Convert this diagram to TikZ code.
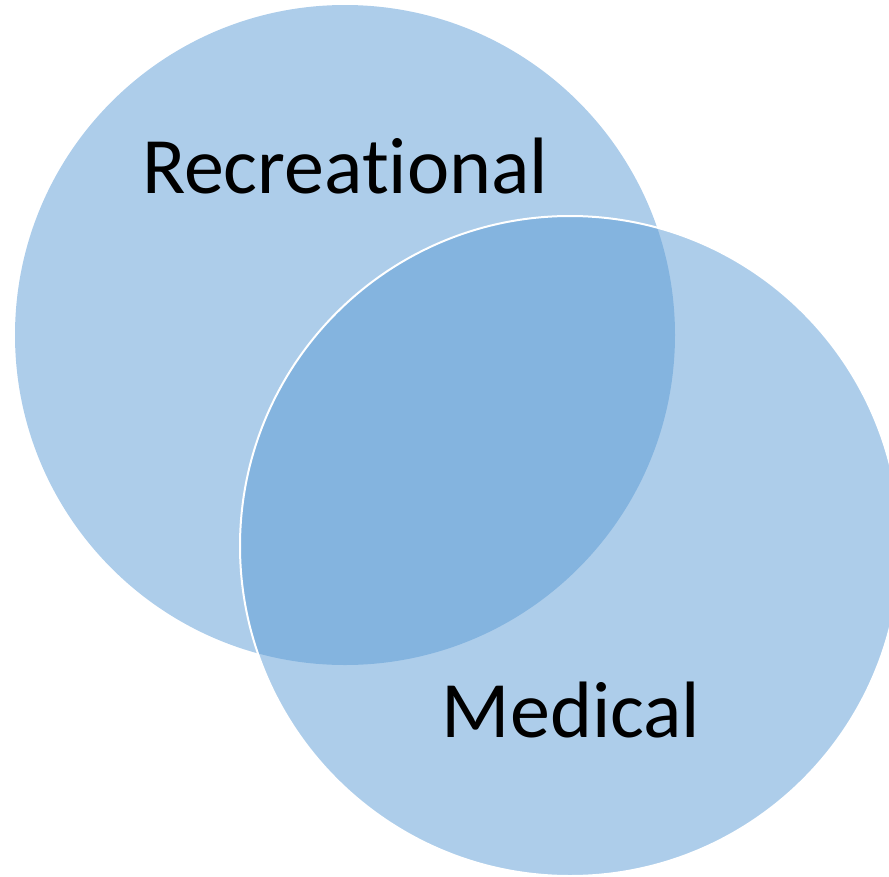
\documentclass[tikz,border=0pt]{standalone}
\usepackage{fontspec}
\setmainfont{Carlito}[Ligatures=NoCommon]
\usepackage{tikz}
\definecolor{setblue}{HTML}{5B9BD5}

\begin{document}
\begin{tikzpicture}[x=1pt,y=1pt,
                   set/.style={shape=circle,inner sep=0pt,minimum size=660pt,fill=setblue,fill opacity=0.5},
                   setlabel/.style={anchor=base,font=\fontsize{80}{86}\selectfont}]
\useasboundingbox (0,0) rectangle (889,-876);
\node[set] (rec) at (345,-335) {};
\node[set,draw=white,line width=2pt] (med) at (570,-546) {};
\node[setlabel] (reclabel) at (345,-193) {Recreational};
\node[setlabel] (medlabel) at (571,-737) {Medical};
\end{tikzpicture}
\end{document}
